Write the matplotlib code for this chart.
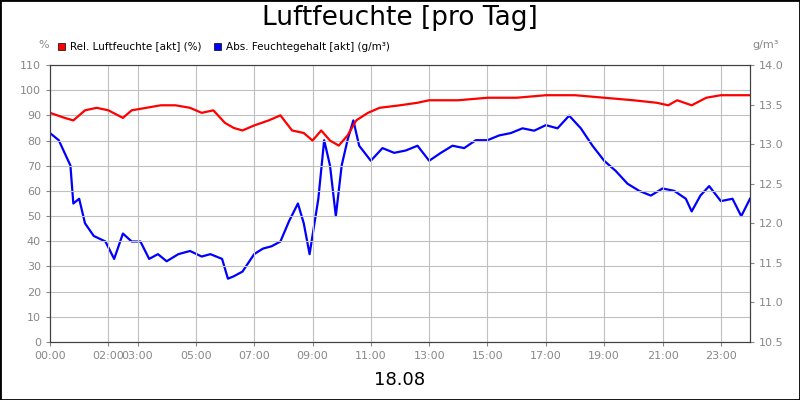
import matplotlib
matplotlib.use("Agg")
import matplotlib.pyplot as plt
from matplotlib.patches import Rectangle

red_h = [0,0.5,0.8,1.2,1.6,2.0,2.5,2.8,3.3,3.8,4.3,4.8,5.2,5.6,6.0,6.3,6.6,7.0,7.5,7.9,8.3,8.7,9.0,9.3,9.6,9.9,10.2,10.5,10.9,11.3,12.0,12.6,13.0,14.0,15.0,16.0,17.0,18.0,19.0,20.0,20.8,21.2,21.5,22.0,22.5,23.0,24]
red_v = [91,89,88,92,93,92,89,92,93,94,94,93,91,92,87,85,84,86,88,90,84,83,80,84,80,78,82,88,91,93,94,95,96,96,97,97,98,98,97,96,95,94,96,94,97,98,98]

blue_h = [0,0.3,0.5,0.7,0.8,1.0,1.2,1.5,1.9,2.2,2.5,2.8,3.1,3.4,3.7,4.0,4.4,4.8,5.2,5.5,5.9,6.1,6.3,6.6,7.0,7.3,7.6,7.9,8.2,8.5,8.7,8.9,9.2,9.4,9.6,9.8,10.0,10.2,10.4,10.6,11.0,11.4,11.8,12.2,12.6,13.0,13.4,13.8,14.2,14.6,15.0,15.4,15.8,16.2,16.6,17.0,17.4,17.8,18.2,18.6,19.0,19.4,19.8,20.2,20.6,21.0,21.4,21.8,22.0,22.3,22.6,23.0,23.4,23.7,24]
blue_v = [13.14,13.05,12.89,12.73,12.25,12.31,12.00,11.84,11.77,11.55,11.87,11.77,11.77,11.55,11.61,11.52,11.61,11.65,11.58,11.61,11.55,11.30,11.33,11.39,11.61,11.68,11.71,11.77,12.03,12.25,12.00,11.61,12.31,13.05,12.73,12.09,12.73,13.05,13.30,12.98,12.79,12.95,12.89,12.92,12.98,12.79,12.89,12.98,12.95,13.05,13.05,13.11,13.14,13.20,13.17,13.24,13.20,13.36,13.20,12.98,12.79,12.66,12.50,12.41,12.35,12.44,12.41,12.31,12.15,12.35,12.47,12.28,12.31,12.09,12.31]

tick_h = [0,2,3,5,7,9,11,13,15,17,19,21,23]
tick_l = ["00:00","02:00","03:00","05:00","07:00","09:00","11:00","13:00","15:00","17:00","19:00","21:00","23:00"]

fig = plt.figure(figsize=(8,4), dpi=100)
fig.patches.append(Rectangle((0,0),1,1,transform=fig.transFigure,fill=False,edgecolor='black',lw=2))
ax = fig.add_axes([50/800, 58/400, 700/800, 277/400])
ax2 = ax.twinx()
gc = '#888888'
ax.plot(red_h, red_v, color='#ff0000', lw=1.6)
ax2.plot(blue_h, blue_v, color='#0000ff', lw=1.6)
ax.set_xlim(0,24); ax.set_ylim(0,110); ax2.set_ylim(10.5,14.0)
ax.set_yticks(range(0,111,10)); ax2.set_yticks([10.5+0.5*i for i in range(8)])
ax2.set_yticklabels([f"{10.5+0.5*i:.1f}" for i in range(8)])
ax.set_xticks(tick_h); ax.set_xticklabels(tick_l)
ax.grid(True, color='#c0c0c0', lw=0.8)
for a in (ax, ax2):
    a.tick_params(labelsize=8, colors=gc, length=3)
    for s in a.spines.values(): s.set_color('#404040')
ax.set_zorder(ax2.get_zorder()+1); ax.patch.set_visible(False)
fig.text(0.5, 0.955, "Luftfeuchte [pro Tag]", ha='center', va='center', fontsize=19)
fig.text(0.5, 0.05, "18.08", ha='center', va='center', fontsize=13)
fig.text(38/800, 0.88, "%", fontsize=8, color=gc)
fig.text(752/800, 0.88, "g/m³", fontsize=8, color=gc)
fig.patches.append(Rectangle((58/800,350/400),7/800,7/400,transform=fig.transFigure,color='#ff0000',ec='black',lw=0.5))
fig.text(70/800, 353.5/400, "Rel. Luftfeuchte [akt] (%)", fontsize=7.5, va='center')
fig.patches.append(Rectangle((214/800,350/400),7/800,7/400,transform=fig.transFigure,color='#0000ff',ec='black',lw=0.5))
fig.text(226/800, 353.5/400, "Abs. Feuchtegehalt [akt] (g/m³)", fontsize=7.5, va='center')
fig.savefig("out.png", dpi=100)
